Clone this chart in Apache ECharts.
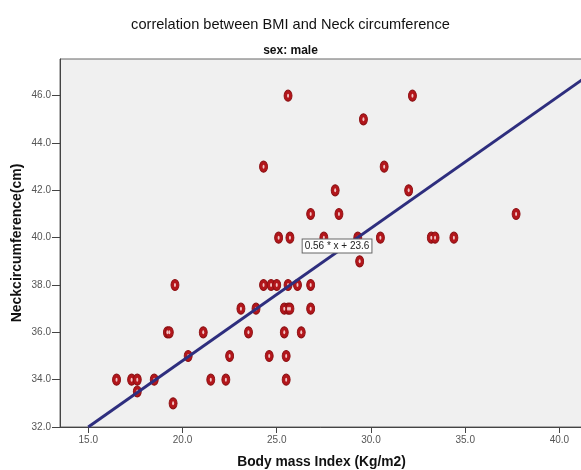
<!DOCTYPE html>
<html>
<head>
<meta charset="utf-8">
<script src="https://cdn.jsdelivr.net/npm/echarts@6/dist/echarts.min.js"></script>
<style>html,body{margin:0;padding:0;background:#fff;}#c{width:581px;height:470px;}</style>
</head>
<body>
<div id="c"></div>
<script>
// BMI (x) and neck circumference (y)
const bmi = [25.6, 32.2, 29.6, 24.3, 30.7, 28.1, 32.0, 26.8, 28.3, 37.7,
  25.1, 25.7, 27.5, 29.3, 30.5, 33.2, 33.4, 34.4, 29.4,
  19.6, 24.3, 24.7, 25.0, 25.6, 26.1, 26.8,
  23.1, 23.9, 25.4, 25.6, 25.7, 26.8,
  19.2, 19.3, 21.1, 23.5, 25.4, 26.3,
  20.3, 22.5, 24.6, 25.5,
  16.5, 17.3, 17.6, 18.5, 21.5, 22.3, 25.5,
  17.6, 19.5];
const neck = [46, 46, 45, 43, 43, 42, 42, 41, 41, 41,
  40, 40, 40, 40, 40, 40, 40, 40, 39,
  38, 38, 38, 38, 38, 38, 38,
  37, 37, 37, 37, 37, 37,
  36, 36, 36, 36, 36, 36,
  35, 35, 35, 35,
  34, 34, 34, 34, 34, 34, 34,
  33.5, 33];
const slope = 0.56, intercept = 23.6;
const xTicks = [15, 20, 25, 30, 35, 40];
const yTicks = [32, 34, 36, 38, 40, 42, 44, 46];
const xMin = 13.5, xMax = 41.25, yMin = 32, yMax = 47.55;
const fitLabel = '0.56 * x + 23.6';
const fitLabelAt = [28.2, 39.65];

const pts = bmi.map((b, i) => [b, neck[i]]);
const lineStart = 15;
const linePts = [[lineStart, slope * lineStart + intercept], [xMax, slope * xMax + intercept]];

const chart = echarts.init(document.getElementById('c'));
const FONT = 'Liberation Sans, Arial, sans-serif';
chart.setOption({
  animation: false,
  backgroundColor: '#ffffff',
  title: [
    {text: 'correlation between BMI and Neck circumference', left: 'center', top: 12,
     textStyle: {fontFamily: FONT, fontSize: 14.6, fontWeight: 'normal', color: '#111'}},
    {text: 'sex: male', left: 'center', top: 40,
     textStyle: {fontFamily: FONT, fontSize: 12, fontWeight: 'bold', color: '#111'}}
  ],
  grid: {left: 60, top: 59, right: -2, bottom: 43, show: true, backgroundColor: '#f0f0f0',
         borderColor: '#666', borderWidth: 1, outerBoundsMode: 'none', containLabel: false},
  xAxis: {
    type: 'value', min: xMin, max: xMax,
    name: 'Body mass Index (Kg/m2)', nameLocation: 'middle', nameGap: 28, nameMoveOverlap: false,
    nameTextStyle: {fontFamily: FONT, fontSize: 13.8, fontWeight: 'bold', color: '#111'},
    splitLine: {show: false},
    axisLine: {show: true, onZero: false, lineStyle: {color: '#444', width: 1}},
    axisTick: {show: true, length: 6, inside: false, customValues: xTicks, lineStyle: {color: '#444'}},
    axisLabel: {customValues: xTicks, formatter: v => v.toFixed(1), margin: 8,
                fontFamily: FONT, fontSize: 10, color: '#555'}
  },
  yAxis: {
    type: 'value', min: yMin, max: yMax,
    name: 'Neckcircumference(cm)', nameLocation: 'middle', nameGap: 36, nameMoveOverlap: false,
    nameTextStyle: {fontFamily: FONT, fontSize: 14, fontWeight: 'bold', color: '#111'},
    splitLine: {show: false},
    axisLine: {show: true, onZero: false, lineStyle: {color: '#444', width: 1}},
    axisTick: {show: true, length: 8, inside: false, customValues: yTicks, lineStyle: {color: '#444'}},
    axisLabel: {customValues: yTicks, formatter: v => v.toFixed(1), margin: 9,
                fontFamily: FONT, fontSize: 10, color: '#555'}
  },
  series: [
    {
      type: 'scatter', data: pts, symbol: 'circle', symbolSize: [8, 11],
      itemStyle: {color: '#b3161b', borderColor: '#8c0f12', borderWidth: 1, opacity: 1},
      z: 3
    },
    {
      type: 'scatter', data: pts, symbol: 'circle', symbolSize: [2, 4],
      itemStyle: {color: '#f2c4c4', opacity: 1}, silent: true,
      z: 3
    },
    {
      type: 'line', data: linePts, showSymbol: false, symbol: 'none',
      lineStyle: {color: '#2e2e7e', width: 3},
      z: 4,
      markPoint: {
        symbol: 'rect', symbolSize: 0,
        data: [{coord: fitLabelAt}],
        label: {show: true, formatter: fitLabel, position: 'inside',
                fontFamily: FONT, fontSize: 10, color: '#222',
                backgroundColor: '#ffffff', borderColor: '#666', borderWidth: 1,
                padding: [2, 2, 1, 2]}
      }
    }
  ]
});
</script>
</body>
</html>
